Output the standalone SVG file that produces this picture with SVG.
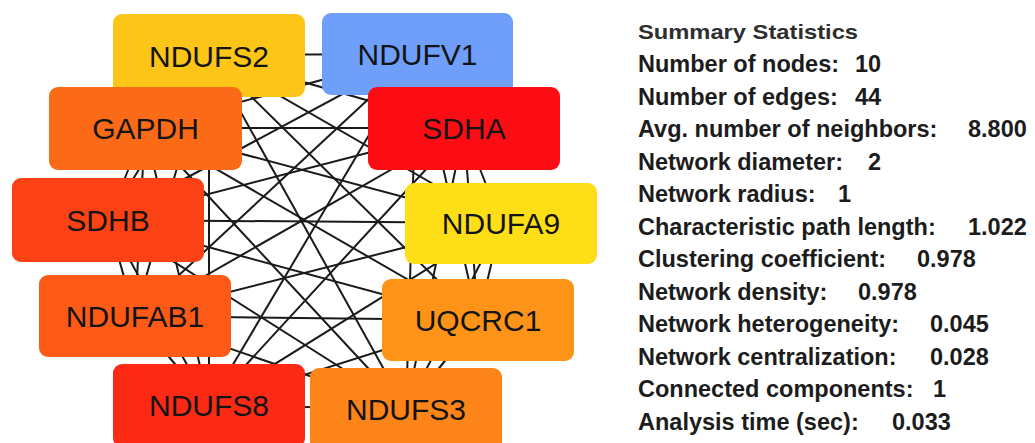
<svg xmlns="http://www.w3.org/2000/svg" width="1035" height="443" viewBox="0 0 1035 443">
<style>
.e{stroke:#1a1a1a;stroke-width:2;fill:none}
.n{stroke:none}
.lbl{font-family:"Liberation Sans",Arial,sans-serif;font-size:30px;fill:#141414;text-anchor:middle}
.st{font-family:"Liberation Sans",Arial,sans-serif;font-size:23.5px;font-weight:bold;fill:#1c1c1c}
.tt{font-family:"Liberation Sans",Arial,sans-serif;font-size:21px;font-weight:bold;fill:#2e2e2e}
</style>
<rect width="1035" height="443" fill="#fff"/>
<g id="edges">
<line class="e" x1="209" y1="55" x2="417" y2="54"/>
<line class="e" x1="209" y1="55" x2="145" y2="128"/>
<line class="e" x1="209" y1="55" x2="464" y2="128"/>
<line class="e" x1="209" y1="55" x2="108" y2="220"/>
<line class="e" x1="209" y1="55" x2="501" y2="223"/>
<line class="e" x1="209" y1="55" x2="135" y2="316"/>
<line class="e" x1="209" y1="55" x2="478" y2="320"/>
<line class="e" x1="209" y1="55" x2="209" y2="405"/>
<line class="e" x1="209" y1="55" x2="406" y2="409"/>
<line class="e" x1="417" y1="54" x2="145" y2="128"/>
<line class="e" x1="417" y1="54" x2="464" y2="128"/>
<line class="e" x1="417" y1="54" x2="108" y2="220"/>
<line class="e" x1="417" y1="54" x2="135" y2="316"/>
<line class="e" x1="417" y1="54" x2="478" y2="320"/>
<line class="e" x1="417" y1="54" x2="209" y2="405"/>
<line class="e" x1="417" y1="54" x2="406" y2="409"/>
<line class="e" x1="145" y1="128" x2="464" y2="128"/>
<line class="e" x1="145" y1="128" x2="108" y2="220"/>
<line class="e" x1="145" y1="128" x2="501" y2="223"/>
<line class="e" x1="145" y1="128" x2="135" y2="316"/>
<line class="e" x1="145" y1="128" x2="478" y2="320"/>
<line class="e" x1="145" y1="128" x2="209" y2="405"/>
<line class="e" x1="145" y1="128" x2="406" y2="409"/>
<line class="e" x1="464" y1="128" x2="108" y2="220"/>
<line class="e" x1="464" y1="128" x2="501" y2="223"/>
<line class="e" x1="464" y1="128" x2="135" y2="316"/>
<line class="e" x1="464" y1="128" x2="478" y2="320"/>
<line class="e" x1="464" y1="128" x2="209" y2="405"/>
<line class="e" x1="464" y1="128" x2="406" y2="409"/>
<line class="e" x1="108" y1="220" x2="501" y2="223"/>
<line class="e" x1="108" y1="220" x2="135" y2="316"/>
<line class="e" x1="108" y1="220" x2="478" y2="320"/>
<line class="e" x1="108" y1="220" x2="209" y2="405"/>
<line class="e" x1="108" y1="220" x2="406" y2="409"/>
<line class="e" x1="501" y1="223" x2="135" y2="316"/>
<line class="e" x1="501" y1="223" x2="478" y2="320"/>
<line class="e" x1="501" y1="223" x2="209" y2="405"/>
<line class="e" x1="501" y1="223" x2="406" y2="409"/>
<line class="e" x1="135" y1="316" x2="478" y2="320"/>
<line class="e" x1="135" y1="316" x2="209" y2="405"/>
<line class="e" x1="135" y1="316" x2="406" y2="409"/>
<line class="e" x1="478" y1="320" x2="209" y2="405"/>
<line class="e" x1="478" y1="320" x2="406" y2="409"/>
<line class="e" x1="209" y1="405" x2="406" y2="409"/>
</g>
<g id="NDUFS2"><rect class="n" x="113" y="14" width="192" height="83" rx="9" fill="#FDC517"/><text class="lbl" x="209" y="66.5">NDUFS2</text></g>
<g id="NDUFV1"><rect class="n" x="322" y="13" width="191" height="82" rx="9" fill="#6F9FFB"/><text class="lbl" x="417.5" y="65">NDUFV1</text></g>
<g id="GAPDH"><rect class="n" x="49" y="87" width="193" height="83" rx="9" fill="#FB6A17"/><text class="lbl" x="145.5" y="139">GAPDH</text></g>
<g id="SDHA"><rect class="n" x="368" y="87" width="192" height="83" rx="9" fill="#FC0D14"/><text class="lbl" x="464" y="139">SDHA</text></g>
<g id="SDHB"><rect class="n" x="12" y="178" width="192" height="84" rx="9" fill="#FC4214"/><text class="lbl" x="108" y="231">SDHB</text></g>
<g id="NDUFA9"><rect class="n" x="405" y="183" width="192" height="81" rx="9" fill="#FDDE17"/><text class="lbl" x="501" y="234">NDUFA9</text></g>
<g id="NDUFAB1"><rect class="n" x="39" y="275" width="192" height="82" rx="9" fill="#FC5A16"/><text class="lbl" x="135" y="327">NDUFAB1</text></g>
<g id="UQCRC1"><rect class="n" x="382" y="279" width="192" height="82" rx="9" fill="#FD9418"/><text class="lbl" x="478" y="331">UQCRC1</text></g>
<g id="NDUFS8"><rect class="n" x="113" y="364" width="192" height="83" rx="9" fill="#FC2A15"/><text class="lbl" x="209" y="415.5">NDUFS8</text></g>
<g id="NDUFS3"><rect class="n" x="310" y="368" width="192" height="83" rx="9" fill="#FC8419"/><text class="lbl" x="406" y="420">NDUFS3</text></g>
<g id="stats">
<text class="tt" x="638" y="39" textLength="220" lengthAdjust="spacingAndGlyphs">Summary Statistics</text>
<text class="st" x="638" y="72">Number of nodes:</text><text class="st" x="855" y="72">10</text>
<text class="st" x="638" y="104.5">Number of edges:</text><text class="st" x="855" y="104.5">44</text>
<text class="st" x="638" y="137">Avg. number of neighbors:</text><text class="st" x="968" y="137">8.800</text>
<text class="st" x="638" y="169.5">Network diameter:</text><text class="st" x="868" y="169.5">2</text>
<text class="st" x="638" y="202">Network radius:</text><text class="st" x="838" y="202">1</text>
<text class="st" x="638" y="234.5">Characteristic path length:</text><text class="st" x="968" y="234.5">1.022</text>
<text class="st" x="638" y="267">Clustering coefficient:</text><text class="st" x="917" y="267">0.978</text>
<text class="st" x="638" y="299.5">Network density:</text><text class="st" x="858" y="299.5">0.978</text>
<text class="st" x="638" y="332">Network heterogeneity:</text><text class="st" x="930" y="332">0.045</text>
<text class="st" x="638" y="364.5">Network centralization:</text><text class="st" x="930" y="364.5">0.028</text>
<text class="st" x="638" y="397">Connected components:</text><text class="st" x="933" y="397">1</text>
<text class="st" x="638" y="429.5">Analysis time (sec):</text><text class="st" x="892" y="429.5">0.033</text>
</g>
</svg>
